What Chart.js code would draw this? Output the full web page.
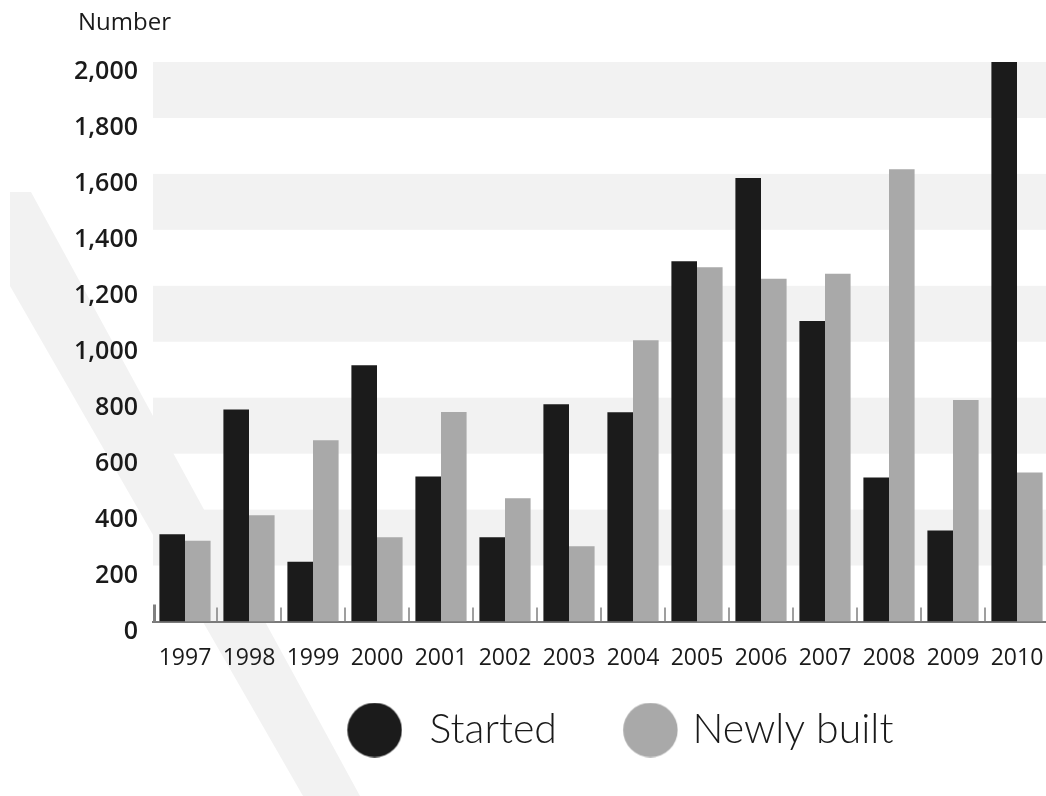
<!DOCTYPE html>
<html>
<head>
<meta charset="utf-8">
<script src="https://cdn.jsdelivr.net/npm/chart.js@4.4.1/dist/chart.umd.min.js"></script>
<style>
html,body{margin:0;padding:0;background:#fff;overflow:hidden;width:1046px;height:796px;}
#wrap{position:absolute;left:0;top:0;width:1229px;height:796px;}
canvas{display:block;}
</style>
</head>
<body>
<div id="wrap"><canvas id="c" width="1229" height="796"></canvas></div>
<script>
// ---- data ----
const years = ['1997','1998','1999','2000','2001','2002','2003','2004','2005','2006','2007','2008','2009','2010'];
const started = [312, 758, 214, 916, 518, 301, 777, 748, 1288, 1585, 1074, 515, 325, 2000];
const newlyBuilt = [289, 380, 648, 301, 749, 441, 269, 1005, 1266, 1225, 1243, 1617, 792, 533];
const seriesNames = ['Started', 'Newly built'];
const yTickValues = [0, 200, 400, 600, 800, 1000, 1200, 1400, 1600, 1800, 2000];
const yTickLabels = ['0', '200', '400', '600', '800', '1,000', '1,200', '1,400', '1,600', '1,800', '2,000'];
const shadedRanges = [[200, 400], [600, 800], [1000, 1200], [1400, 1600], [1800, 2000]];
const axisTitle = 'Number';

// ---- styles ----
const COL_START = '#1b1b1b';
const COL_NEW = '#a9a9a9';
const BAND = '#f2f2f2';

// legend dot image; 'shift' moves the dot right of the legend box centre
function dotMark(color, shift) {
  const c = document.createElement('canvas');
  const w = Math.round(2 * (27.5 + shift));
  c.width = w; c.height = 55;
  const x = c.getContext('2d');
  x.fillStyle = color;
  x.beginPath();
  x.arc(w / 2 + shift, 27.5, 27.3, 0, Math.PI * 2);
  x.fill();
  return c;
}
const legendMarks = [dotMark(COL_START, 2.25), dotMark(COL_NEW, 15.25)];

const backgroundPlugin = {
  id: 'background',
  beforeDraw(chart) {
    const c = chart.ctx, a = chart.chartArea, ys = chart.scales.y;
    c.save();
    c.fillStyle = BAND;
    // decorative diagonal stripe
    c.beginPath();
    c.moveTo(10, 192);
    c.lineTo(31, 192);
    c.lineTo(360, 796);
    c.lineTo(303, 796);
    c.lineTo(10, 286);
    c.closePath();
    c.fill();
    // alternating bands
    shadedRanges.forEach(([lo, hi]) => {
      const y1 = ys.getPixelForValue(hi), y2 = ys.getPixelForValue(lo);
      c.fillRect(a.left, y1, a.right - a.left, y2 - y1);
    });
    c.restore();
  }
};

const tickPlugin = {
  id: 'catTicks',
  afterDatasetsDraw(chart) {
    const c = chart.ctx, a = chart.chartArea, xs = chart.scales.x;
    const w = (a.right - a.left) / years.length;
    c.save();
    c.fillStyle = '#808080';
    years.forEach((y, i) => {
      const x = xs.getPixelForValue(i) - w / 2;
      if (i === 0) c.fillRect(x, a.bottom - 17, 3, 17);
      else c.fillRect(x - 0.75, a.bottom - 14, 1.5, 14);
    });
    c.restore();
  }
};

const titlePlugin = {
  id: 'yTitle',
  afterDraw(chart) {
    const c = chart.ctx, a = chart.chartArea;
    c.save();
    c.font = '400 24px "Open Sans"';
    c.fillStyle = '#1a1a1a';
    c.textAlign = 'left';
    c.textBaseline = 'middle';
    c.fillText(axisTitle, a.left - 75, 23);
    c.restore();
  }
};

new Chart(document.getElementById('c'), {
  type: 'bar',
  data: {
    labels: years,
    datasets: [
      { label: seriesNames[0], data: started, backgroundColor: COL_START, categoryPercentage: 0.8, barPercentage: 1.0 },
      { label: seriesNames[1], data: newlyBuilt, backgroundColor: COL_NEW, categoryPercentage: 0.8, barPercentage: 1.0 }
    ]
  },
  options: {
    responsive: false,
    animation: false,
    layout: { padding: { top: 62, bottom: 35.5, left: 0, right: 0 } },
    plugins: {
      tooltip: { enabled: false },
      legend: {
        position: 'bottom',
        labels: {
          usePointStyle: true,
          pointStyleWidth: 73.5,
          padding: 41.5,
          color: '#1a1a1a',
          font: { family: 'Lato', size: 41, weight: '300' },
          generateLabels(chart) {
            const items = Chart.defaults.plugins.legend.labels.generateLabels(chart);
            items.forEach((it, i) => { it.pointStyle = legendMarks[i]; });
            return items;
          }
        }
      }
    },
    scales: {
      x: {
        grid: { display: false, drawTicks: false },
        border: { display: true, color: '#7a7a7a', width: 2 },
        ticks: { padding: 23, color: '#1a1a1a', font: { family: 'Open Sans', size: 23, weight: '500' }, maxRotation: 0, autoSkip: false },
        afterFit(s) { s.height = 46.5; }
      },
      y: {
        min: 0, max: 2000,
        grid: { display: false, drawTicks: false },
        border: { display: false },
        afterBuildTicks(s) { s.ticks = yTickValues.map(v => ({ value: v })); },
        ticks: {
          padding: 15, labelOffset: 10, color: '#1a1a1a',
          font: { family: 'Open Sans', size: 25, weight: '600' },
          callback: (v) => yTickLabels[yTickValues.indexOf(v)]
        },
        afterFit(s) { s.width = 153; }
      },
      spacer: {
        type: 'linear', position: 'right', display: true,
        grid: { display: false, drawTicks: false },
        border: { display: false },
        ticks: { display: false },
        afterFit(s) { s.width = 180; }
      }
    }
  },
  plugins: [backgroundPlugin, tickPlugin, titlePlugin]
});
</script>
</body>
</html>
